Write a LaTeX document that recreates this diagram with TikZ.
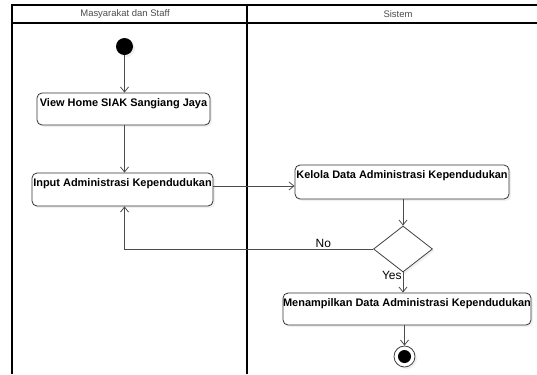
\documentclass[tikz,border=0pt]{standalone}
\usepackage{fontspec}
\setmainfont{Liberation Sans}
\usetikzlibrary{positioning,calc}
\usetikzlibrary{shapes.geometric}
\usetikzlibrary{arrows.meta}
\usetikzlibrary{shadows}

\tikzset{
  lane/.style={line width=1.4bp,draw=black},
  lanetitle/.style={text=black!70,font=\fontsize{9.5}{11}\selectfont},
  act/.style={draw=black!80,line width=0.8bp,rounded corners=5bp,fill=white,
    font=\bfseries\fontsize{11}{13}\selectfont,
    text height=12bp,text depth=17bp,inner ysep=1.5bp,inner xsep=0pt,
    drop shadow={shadow xshift=2bp,shadow yshift=-2bp,opacity=0.12}},
  flow/.style={draw=black!70,line width=0.8bp,-{Straight Barb[length=5bp,width=8bp]}},
  guard/.style={font=\fontsize{12}{14}\selectfont,inner sep=1bp},
}

\begin{document}
\begin{tikzpicture}[x=1bp,y=-1bp]
  \useasboundingbox (0,0) rectangle (537,374);

  % swimlanes
  \draw[lane] (537,5) -- (12,5) -- (12,374);
  \draw[lane] (12,23) -- (537,23);
  \draw[lane,line width=2bp] (247,5) -- (247,374);
  \node (lane1) at (125,14) [lanetitle] {Masyarakat dan Staff};
  \node (lane2) at (398,14) [lanetitle] {Sistem};

  \node (start) at (124.5,46.5) [circle,fill=black,minimum size=17bp,inner sep=0pt,
    drop shadow={shadow xshift=2bp,shadow yshift=-2bp,opacity=0.12}] {};
  \node (view) at (123.5,109) [act,minimum width=173bp] {View Home SIAK Sangiang Jaya};
  \node (input) at (122.5,189.5) [act,minimum width=181bp,text depth=18bp] {Input Administrasi Kependudukan};
  \node (kelola) at (402,182) [act,minimum width=214bp,text depth=19bp] {Kelola Data Administrasi Kependudukan};
  \node (dec) at (403,249) [diamond,draw=black!75,line width=0.8bp,fill=white,
    minimum width=59bp,minimum height=46bp,inner sep=0pt,
    drop shadow={shadow xshift=2bp,shadow yshift=-2bp,opacity=0.12}] {};
  \node (show) at (407,309) [act,minimum width=248bp] {Menampilkan Data Administrasi Kependudukan};
  \node (stop) at (404.5,356.5) [circle,draw=black!75,line width=0.8bp,fill=white,minimum size=21bp,inner sep=0pt,
    drop shadow={shadow xshift=2bp,shadow yshift=-2bp,opacity=0.12}] {};
  \node (stopdot) at (stop) [circle,fill=black,minimum size=13bp,inner sep=0pt] {};

  \draw[flow] (start) -- (start |- view.north);
  \draw[flow] (view.south -| start) -- (start |- input.north);
  \draw[flow] ([yshift=3.5bp]input.east) -- ([yshift=3.5bp]input.east -| kelola.west);
  \draw[flow] (kelola.south -| dec) -- (dec.north);
  \draw[flow] (dec.west) -| node[guard,pos=0.1,above] {No} (start |- input.south);
  \draw[flow] (dec.south) -- node[guard,pos=0.15,left] {Yes} (dec.south |- show.north);
  \draw[flow] (show.south -| stop) -- (stop.north);
\end{tikzpicture}
\end{document}
